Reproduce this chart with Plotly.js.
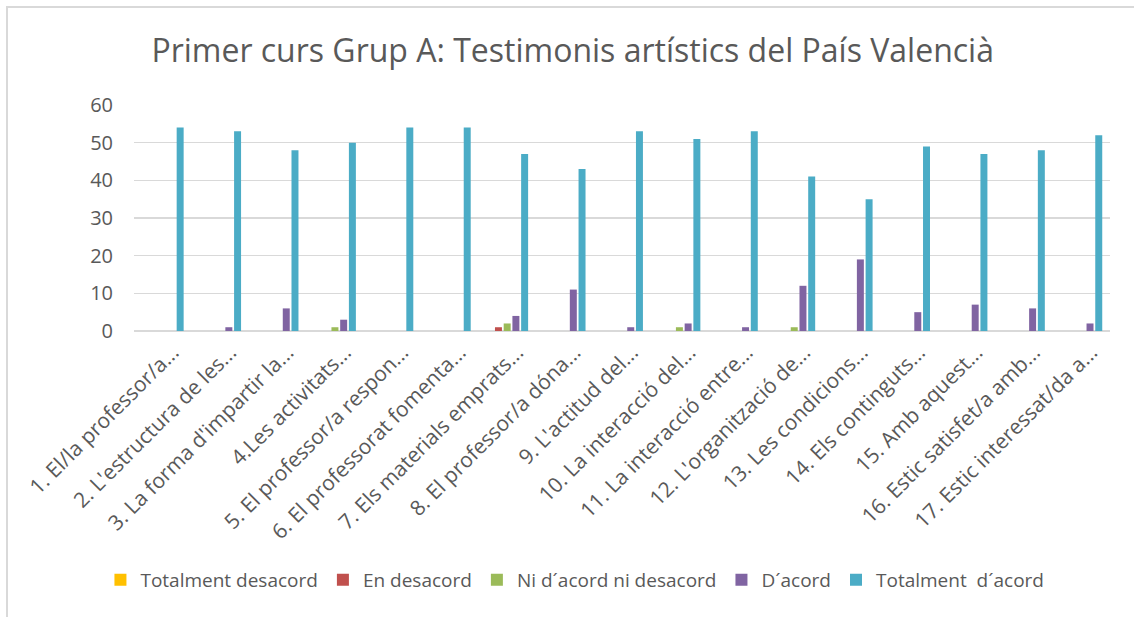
<!DOCTYPE html>
<html>
<head>
<meta charset="utf-8">
<script src="https://cdn.plot.ly/plotly-3.0.1.min.js"></script>
<style>
  html, body { margin: 0; padding: 0; background: #ffffff; overflow: hidden; }
  #wrap { position: relative; width: 1134px; height: 617px; }
  #frame { position: absolute; left: 6px; top: 6px; width: 1140px; height: 620px;
           border: 2px solid #d9d9d9; box-sizing: border-box; pointer-events: none; z-index: 5; }
  #chart { position: absolute; left: 0; top: 0; width: 1134px; height: 617px; }
</style>
</head>
<body>
<div id="wrap">
  <div id="chart"></div>
  <div id="frame"></div>
</div>
<script>
const categories = [
  "1. El/la professor/a...",
  "2. L'estructura de les...",
  "3. La forma d'impartir la...",
  "4.Les activitats...",
  "5. El professor/a respon...",
  "6. El professorat fomenta...",
  "7. Els materials emprats...",
  "8. El professor/a dóna...",
  "9. L'actitud del...",
  "10. La interacció del...",
  "11. La interacció entre...",
  "12. L'organització de...",
  "13. Les condicions...",
  "14. Els continguts...",
  "15. Amb aquest...",
  "16. Estic satisfet/a amb...",
  "17. Estic interessat/da a..."
];
const seriesNames = ["Totalment desacord", "En desacord", "Ni d´acord ni desacord", "D´acord", "Totalment  d´acord"];
const totalmentDesacord = [0,0,0,0,0,0,0,0,0,0,0,0,0,0,0,0,0];
const enDesacord        = [0,0,0,0,0,0,1,0,0,0,0,0,0,0,0,0,0];
const niAcordNiDesacord = [0,0,0,1,0,0,2,0,0,1,0,1,0,0,0,0,0];
const dAcord            = [0,1,6,3,0,0,4,11,1,2,1,12,19,5,7,6,2];
const totalmentDAcord   = [54,53,48,50,54,54,47,43,53,51,53,41,35,49,47,48,52];
const yTicks = [0,10,20,30,40,50,60];
const colors = ["#FFC000", "#C0504D", "#9BBB59", "#8064A2", "#4BACC6"];

const allSeries = [totalmentDesacord, enDesacord, niAcordNiDesacord, dAcord, totalmentDAcord];
const FONT = "Open Sans, Liberation Sans, sans-serif";
const traces = allSeries.map((vals, i) => ({
  type: "bar",
  name: seriesNames[i],
  x: categories,
  y: vals,
  marker: { color: colors[i] },
  hoverinfo: "x+y+name"
}));

const layout = {
  width: 1134,
  height: 617,
  paper_bgcolor: "#ffffff",
  plot_bgcolor: "#ffffff",
  margin: { l: 134, r: 24, t: 105, b: 286 },
  barmode: "group",
  bargap: 0.24,
  bargroupgap: 0.2,
  font: { family: FONT, color: "#595959" },
  title: {
    text: "Primer curs Grup A: Testimonis artístics del País Valencià",
    font: { family: FONT, size: 32, color: "#595959" },
    x: 0.505, xref: "container", xanchor: "center",
    y: 0.918, yref: "container", yanchor: "middle"
  },
  xaxis: {
    type: "category",
    tickangle: -45,
    tickfont: { family: FONT, size: 21, color: "#595959" },
    showgrid: false,
    showline: false,
    ticks: "",
    ticklabelshift: 10,
    ticklabelstandoff: 4,
    automargin: false
  },
  yaxis: {
    range: [0, 60],
    tickvals: yTicks,
    ticktext: yTicks.map(String),
    tickfont: { family: FONT, size: 20, color: "#595959" },
    showgrid: true,
    gridcolor: "#d9d9d9",
    gridwidth: 1.3,
    zeroline: true,
    zerolinecolor: "#d9d9d9",
    zerolinewidth: 1.6,
    showline: false,
    ticks: "",
    ticklabelstandoff: 20,
    automargin: false
  },
  legend: {
    orientation: "h",
    x: 0.507, xref: "container", xanchor: "center",
    y: 0.06, yref: "container", yanchor: "middle",
    font: { family: FONT, size: 19, color: "#595959" },
    itemwidth: 30,
    traceorder: "normal"
  },
  showlegend: true
};

Plotly.newPlot("chart", traces, layout, { displayModeBar: false, staticPlot: true });
</script>
</body>
</html>
